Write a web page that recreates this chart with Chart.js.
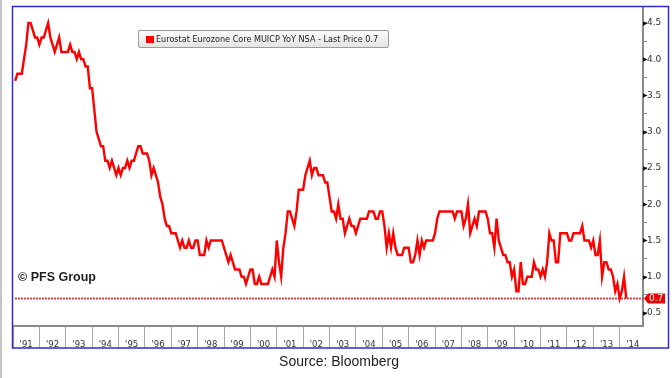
<!DOCTYPE html>
<html>
<head>
<meta charset="utf-8">
<script src="https://cdn.jsdelivr.net/npm/chart.js@4.4.1/dist/chart.umd.min.js"></script>
<style>
html,body{margin:0;padding:0;background:#fff;}
#wrap{position:relative;width:672px;height:378px;overflow:hidden;background:#fff;}
#c{position:absolute;left:0;top:0;}
#leftbar{position:absolute;left:0;top:0;width:2px;height:378px;background:#c4c4c4;}
#legend{position:absolute;left:138px;top:30px;width:251px;height:18px;border:1px solid #9c9c9c;border-radius:2px;
  background:linear-gradient(#fbfbfb,#e4e4e4);box-sizing:border-box;}
#legend .sw{position:absolute;left:7px;top:5px;width:8px;height:7px;background:#ff0000;}
#legend .tx{position:absolute;left:17px;top:0;line-height:16px;font-family:"DejaVu Sans Condensed","DejaVu Sans",sans-serif;color:#222;white-space:nowrap;}
#wm{position:absolute;left:18px;top:270px;font-family:"Liberation Sans",Arial,sans-serif;font-weight:bold;font-size:12.5px;color:#1e1e1e;white-space:nowrap;}
#src{position:absolute;left:0;width:678px;top:353px;text-align:center;font-family:"Liberation Sans",Arial,sans-serif;font-size:14px;color:#222;}
</style>
</head>
<body>
<div id="wrap">
  <canvas id="c" width="672" height="378"></canvas>
  <div id="leftbar"></div>
  <div id="legend"><div class="sw"></div><div class="tx" id="legtx"></div></div>
  <div id="wm">© PFS Group</div>
  <div id="src">Source: Bloomberg</div>
</div>
<script>
// ---- data ----
const seriesName = "Eurostat Eurozone Core MUICP YoY NSA - Last Price";
const startYear = 1991;           // first observation: Jan 1991 (monthly)
const coreHicp = [
  3.7,3.8,3.8,3.8,4.0,4.2,4.5,4.5,4.4,4.3,4.3,4.2,   // 1991
  4.3,4.3,4.4,4.5,4.3,4.2,4.1,4.2,4.3,4.1,4.1,4.1,   // 1992
  4.1,4.2,4.1,4.1,4.0,4.1,4.0,4.0,3.9,3.9,3.6,3.6,   // 1993
  3.3,3.0,2.9,2.8,2.8,2.6,2.6,2.5,2.6,2.5,2.4,2.5,   // 1994
  2.4,2.5,2.5,2.6,2.5,2.6,2.6,2.7,2.8,2.8,2.7,2.7,   // 1995
  2.7,2.6,2.4,2.5,2.4,2.3,2.1,2.0,1.8,1.7,1.7,1.6,   // 1996
  1.6,1.6,1.5,1.4,1.5,1.4,1.4,1.5,1.4,1.4,1.5,1.5,   // 1997
  1.3,1.3,1.3,1.5,1.4,1.5,1.5,1.5,1.5,1.5,1.5,1.4,   // 1998
  1.3,1.2,1.3,1.2,1.1,1.1,1.1,1.0,1.0,0.9,1.0,1.1,   // 1999
  1.1,0.9,0.9,1.0,0.9,0.9,0.9,0.9,1.0,1.1,1.0,1.5,   // 2000
  1.2,1.0,1.4,1.6,1.9,1.9,1.8,1.7,1.9,2.2,2.2,2.2,   // 2001
  2.4,2.5,2.6,2.4,2.5,2.5,2.4,2.4,2.4,2.3,2.3,2.1,   // 2002
  1.9,1.9,1.8,2.0,1.8,1.8,1.6,1.7,1.8,1.7,1.7,1.6,   // 2003
  1.7,1.8,1.8,1.8,1.8,1.9,1.9,1.9,1.8,1.8,1.9,1.9,   // 2004
  1.7,1.4,1.6,1.4,1.6,1.4,1.3,1.3,1.3,1.4,1.4,1.4,   // 2005
  1.2,1.2,1.3,1.5,1.3,1.5,1.4,1.5,1.5,1.5,1.5,1.6,   // 2006
  1.8,1.9,1.9,1.9,1.9,1.9,1.9,1.9,1.8,1.9,1.9,1.9,   // 2007
  1.7,1.8,2.0,1.6,1.7,1.8,1.7,1.9,1.9,1.9,1.9,1.8,   // 2008
  1.6,1.6,1.4,1.8,1.5,1.4,1.3,1.3,1.2,1.2,1.0,1.1,   // 2009
  0.8,0.8,1.2,0.9,0.9,1.0,1.0,1.0,1.2,1.1,1.1,1.0,   // 2010
  1.1,1.0,1.2,1.6,1.5,1.5,1.2,1.2,1.6,1.6,1.6,1.6,   // 2011
  1.5,1.5,1.6,1.6,1.6,1.6,1.7,1.5,1.5,1.5,1.4,1.5,   // 2012
  1.3,1.3,1.5,1.0,1.2,1.2,1.1,1.1,1.0,0.8,0.9,0.7,   // 2013
  0.8,1.0,0.7                                        // 2014
];
const yearLabels = ["'91","'92","'93","'94","'95","'96","'97","'98","'99","'00","'01","'02",
                    "'03","'04","'05","'06","'07","'08","'09","'10","'11","'12","'13","'14"];
const yTickLabels = ["0.5","1.0","1.5","2.0","2.5","3.0","3.5","4.0","4.5"];
const yMinorTicks = [0.75,1.25,1.75,2.25,2.75,3.25,3.75,4.25];

// ---- build ----
const lastPrice = coreHicp[coreHicp.length - 1];
const pts = coreHicp.map((v, i) => ({ x: startYear + (i + 1) / 12, y: v }));
const xMin = startYear, xMax = 2014.885;
const yMajor = yTickLabels.map(Number);

const legTx = document.getElementById('legtx');
legTx.textContent = seriesName + " " + lastPrice.toFixed(1);
(function fit() {
  const cv = document.createElement('canvas').getContext('2d');
  cv.font = '10px "DejaVu Sans Condensed"';
  const w = cv.measureText(legTx.textContent).width;
  legTx.style.fontSize = Math.min(9, 10 * 229 / w).toFixed(2) + 'px';
})();

const decor = {
  id: 'decor',
  afterDraw(chart) {
    const ctx = chart.ctx, ys = chart.scales.y, ca = chart.chartArea;
    ctx.save();
    // major tick arrows on right axis
    ctx.fillStyle = '#111';
    yMajor.forEach(v => {
      const p = Math.round(ys.getPixelForValue(v)) + 0.5;
      ctx.beginPath();
      ctx.moveTo(ca.right, p - 2.2);
      ctx.lineTo(ca.right + 4.5, p);
      ctx.lineTo(ca.right, p + 2.2);
      ctx.closePath();
      ctx.fill();
    });
    // last price marker
    const py = ys.getPixelForValue(lastPrice);
    const x0 = ca.right + 1;
    ctx.fillStyle = '#ee0000';
    ctx.beginPath();
    ctx.moveTo(x0, py);
    ctx.lineTo(x0 + 4, py - 5);
    ctx.lineTo(x0 + 21, py - 5);
    ctx.lineTo(x0 + 21, py + 5);
    ctx.lineTo(x0 + 4, py + 5);
    ctx.closePath();
    ctx.fill();
    ctx.fillStyle = '#fff';
    ctx.font = '9px "DejaVu Sans"';
    ctx.textBaseline = 'middle';
    ctx.textAlign = 'left';
    ctx.fillText(lastPrice.toFixed(1), x0 + 5, py + 0.5);
    // outer blue frame
    ctx.strokeStyle = '#2c2cd0';
    ctx.lineWidth = 1.5;
    ctx.strokeRect(12.5, 6.5, 656, 341.5);
    ctx.restore();
  }
};

new Chart(document.getElementById('c'), {
  type: 'line',
  data: {
    datasets: [
      { label: seriesName, data: pts, borderColor: '#ff0000', borderWidth: 2.4,
        pointRadius: 0, tension: 0, fill: false, order: 1 },
      { label: 'last', data: [{ x: startYear + 1 / 12, y: lastPrice }, { x: xMax, y: lastPrice }],
        borderColor: '#e00000', borderWidth: 2, borderDash: [1.5, 1.5], pointRadius: 0, fill: false, order: 2 }
    ]
  },
  options: {
    responsive: false,
    animation: false,
    events: [],
    layout: { padding: { left: 13, top: 7, right: 0, bottom: 29 } },
    plugins: { legend: { display: false }, tooltip: { enabled: false } },
    scales: {
      x: {
        type: 'linear', min: xMin, max: xMax,
        afterBuildTicks: s => { s.ticks = yearLabels.map((l, i) => ({ value: startYear + i + 0.5 })); },
        afterFit: s => { s.height = 23; },
        ticks: { autoSkip: false, maxRotation: 0, padding: -8,
          callback: (v, i) => yearLabels[i],
          font: { family: '"DejaVu Sans"', size: 8.5 }, color: '#333' },
        grid: { offset: true, drawOnChartArea: false, tickLength: 22, color: '#a8a8a8', lineWidth: 1 },
        border: { color: '#8a8a8a', width: 2 }
      },
      y: {
        position: 'right', min: 0.32, max: 4.72,
        afterBuildTicks: s => {
          s.ticks = yMajor.concat(yMinorTicks).sort((a, b) => a - b).map(v => ({ value: v }));
        },
        afterFit: s => { s.width = 29; },
        ticks: { autoSkip: false, padding: 0,
          callback: v => { const k = yMajor.indexOf(v); return k >= 0 ? yTickLabels[k] : ''; },
          font: { family: '"DejaVu Sans"', size: 9 }, color: '#333' },
        grid: { drawOnChartArea: false, tickLength: 4, color: '#888', lineWidth: 1 },
        border: { color: '#8a8a8a', width: 2 }
      }
    }
  },
  plugins: [decor]
});
</script>
</body>
</html>
